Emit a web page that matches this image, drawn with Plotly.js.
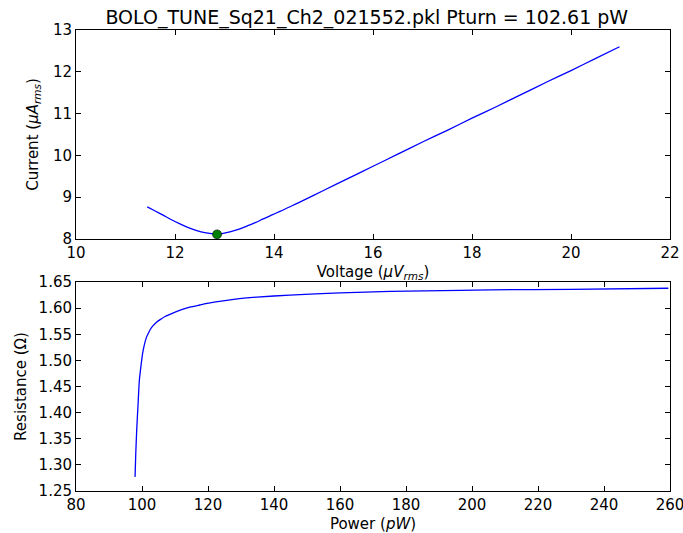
<!DOCTYPE html>
<html>
<head>
<meta charset="utf-8">
<script src="https://cdn.plot.ly/plotly-3.0.1.min.js"></script>
<style>html,body{margin:0;padding:0;background:#fff}#chart{width:683px;height:533px}</style>
</head>
<body>
<div id="chart"></div>
<script>
// Top panel: current vs voltage
const voltage = [11.44, 11.6, 11.76, 11.93, 12.10, 12.27, 12.44, 12.6, 12.77, 12.85, 12.95, 13.11, 13.28, 13.45, 13.62, 13.78, 13.95, 14.12, 14.3, 14.5, 15.0, 15.5, 16.0, 16.5, 17.0, 17.5, 18.0, 18.5, 19.0, 19.5, 20.0, 20.5, 20.98];
const current = [8.77, 8.67, 8.57, 8.46, 8.36, 8.27, 8.20, 8.15, 8.12, 8.11, 8.13, 8.17, 8.23, 8.31, 8.39, 8.48, 8.57, 8.66, 8.76, 8.87, 9.16, 9.45, 9.74, 10.03, 10.32, 10.60, 10.89, 11.17, 11.46, 11.75, 12.03, 12.32, 12.60];
const turnV = [12.85];
const turnI = [8.11];

// Bottom panel: resistance vs power
const power = [97.9, 98.1, 98.4, 98.8, 99.2, 99.7, 100.2, 100.8, 101.4, 102.0, 102.6, 103.3, 104.4, 105.5, 107.0, 109.5, 112.0, 114.5, 117.5, 120.6, 124.6, 129.5, 134.8, 144.8, 160, 175.2, 196.4, 205.5, 230, 259.5];
const resistance = [1.277, 1.32, 1.367, 1.415, 1.462, 1.49, 1.514, 1.532, 1.545, 1.553, 1.560, 1.566, 1.573, 1.578, 1.584, 1.591, 1.597, 1.602, 1.606, 1.610, 1.614, 1.618, 1.621, 1.625, 1.629, 1.632, 1.634, 1.635, 1.636, 1.638];

const titleText = "BOLO_TUNE_Sq21_Ch2_021552.pkl Pturn = 102.61 pW";
const xTicksTop = [10, 12, 14, 16, 18, 20, 22];
const yTicksTop = [8, 9, 10, 11, 12, 13];
const xTicksBot = [80, 100, 120, 140, 160, 180, 200, 220, 240, 260];
const yTicksBot = [1.25, 1.30, 1.35, 1.40, 1.45, 1.50, 1.55, 1.60, 1.65];

const W = 683, H = 533;
const font = {family: "DejaVu Sans, sans-serif", size: 15, color: "#000"};
const axisBase = {
  showline: true, linecolor: "#000", linewidth: 1, mirror: "ticks",
  ticks: "inside", ticklen: 5, tickwidth: 1, tickcolor: "#000",
  showgrid: false, zeroline: false, tickfont: font, automargin: false,
  ticklabeloverflow: "allow"
};

const traces = [
  {x: voltage, y: current, type: "scatter", mode: "lines", line: {color: "#0000ff", width: 1.3, shape: "spline", smoothing: 0.8}, xaxis: "x", yaxis: "y", hoverinfo: "skip"},
  {x: turnV, y: turnI, type: "scatter", mode: "markers", marker: {color: "#008000", size: 9, line: {color: "#000", width: 0.6}}, xaxis: "x", yaxis: "y"},
  {x: power, y: resistance, type: "scatter", mode: "lines", line: {color: "#0000ff", width: 1.3, shape: "spline", smoothing: 0.6}, xaxis: "x2", yaxis: "y2"}
];

const layout = {
  width: W, height: H,
  margin: {l: 0, r: 0, t: 0, b: 0},
  paper_bgcolor: "#fff", plot_bgcolor: "#fff",
  showlegend: false,
  font: font,
  title: {text: titleText, font: {family: font.family, size: 19, color: "#000"}, xref: "paper", x: 0.537, xanchor: "center", yref: "container", y: 1 - 17/H, yanchor: "middle"},
  xaxis: Object.assign({}, axisBase, {domain: [76/W, 670/W], range: [10, 22], tickvals: xTicksTop, anchor: "y",
    title: {text: "Voltage (<i>μV</i><sub><i>rms</i></sub>)", font: font, standoff: 5}}),
  yaxis: Object.assign({}, axisBase, {domain: [(H-239)/H, (H-30)/H], range: [8, 13], tickvals: yTicksTop, anchor: "x",
    title: {text: "Current (<i>μA</i><sub><i>rms</i></sub>)", font: font, standoff: 10}}),
  xaxis2: Object.assign({}, axisBase, {domain: [76/W, 670/W], range: [80, 260], tickvals: xTicksBot, anchor: "y2",
    title: {text: "Power (<i>pW</i>)", font: font, standoff: 5}}),
  yaxis2: Object.assign({}, axisBase, {domain: [(H-491)/H, (H-282)/H], range: [1.25, 1.65], tickvals: yTicksBot, ticktext: yTicksBot.map(v => v.toFixed(2)), anchor: "x2",
    title: {text: "Resistance (Ω)", font: font, standoff: 8}})
};

Plotly.newPlot("chart", traces, layout, {displayModeBar: false, staticPlot: true});
</script>
</body>
</html>
